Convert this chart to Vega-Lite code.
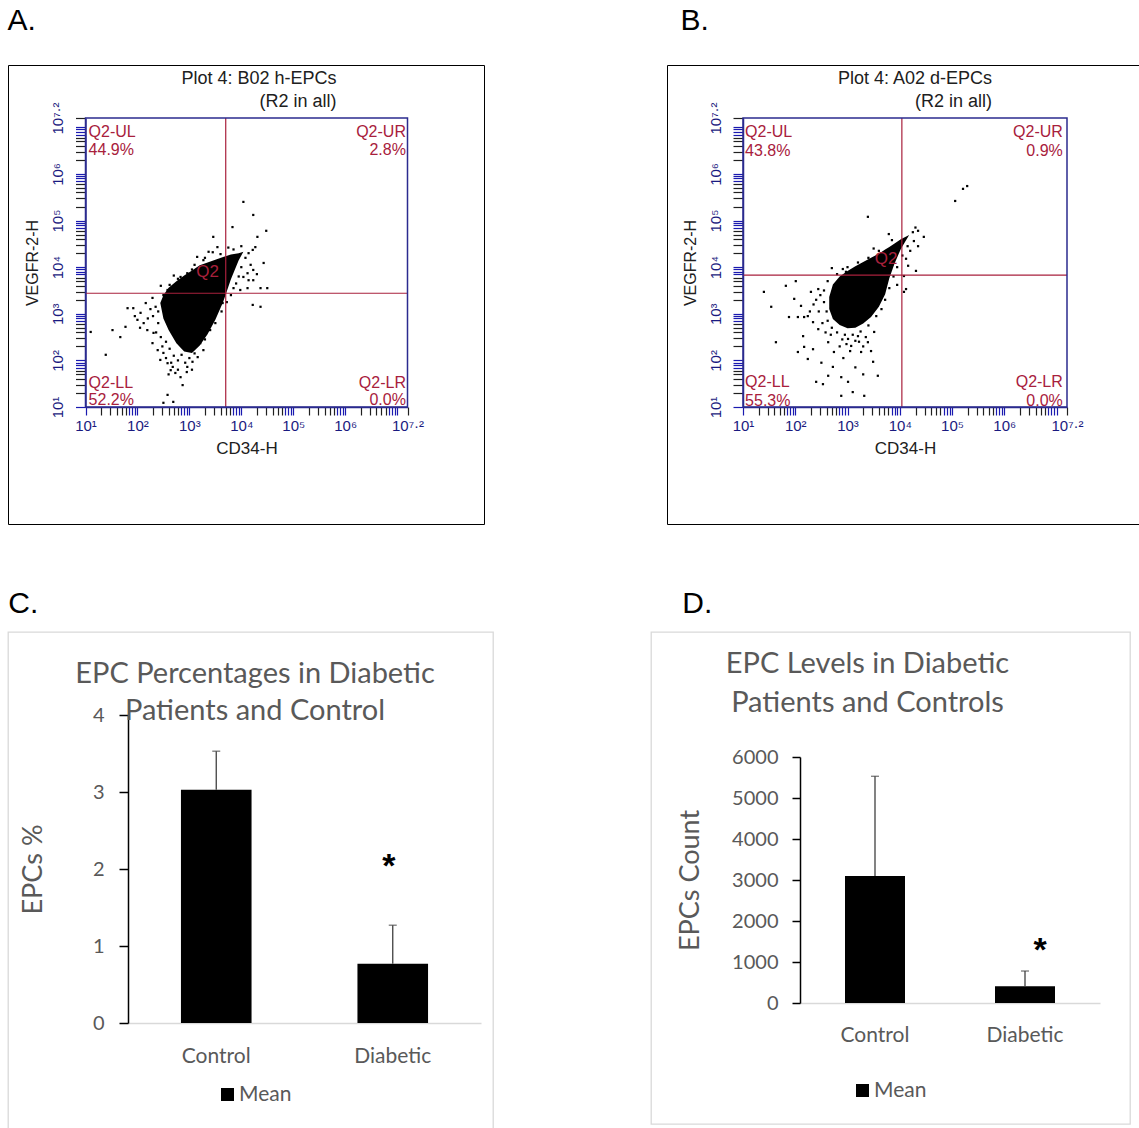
{
  "$schema": "https://vega.github.io/schema/vega-lite/v6.json",
  "padding": {"left": 7, "top": 5, "right": 0, "bottom": 0},
  "background": "white",
  "config": {
    "view": {"stroke": null},
    "axis": {"grid": false},
    "font": "Liberation Sans"
  },
  "resolve": {"scale": {"color": "independent"}, "legend": {"color": "independent"}},
  "spacing": 64,
  "vconcat": [
    {
      "spacing": 181,
      "resolve": {"scale": {"color": "independent"}, "legend": {"color": "independent"}},
      "hconcat": [
        {
          "title": {"text": "A.", "anchor": "start", "font": "Liberation Sans", "fontSize": 30, "fontWeight": "normal", "color": "black", "offset": 29},
          "vconcat": [
            {
              "width": 476,
              "height": 459,
              "view": {"stroke": "black", "strokeWidth": 1},
              "title": {"text": ["Plot 4: B02 h-EPCs", "(R2 in all)"], "anchor": "middle", "align": "right", "frame": "group", "offset": -45.8, "dx": 90.5, "font": "Liberation Sans", "fontSize": 18, "lineHeight": 23, "fontWeight": "normal", "color": "#202020"},
              "layer": [
                {
                  "data": {"values": [
                    {"CD34": 2.44, "VEGFR2_low": 3.23, "VEGFR2_high": 3.23},
                    {"CD34": 2.50, "VEGFR2_low": 2.90, "VEGFR2_high": 3.40},
                    {"CD34": 2.60, "VEGFR2_low": 2.65, "VEGFR2_high": 3.56},
                    {"CD34": 2.75, "VEGFR2_low": 2.37, "VEGFR2_high": 3.70},
                    {"CD34": 2.90, "VEGFR2_low": 2.19, "VEGFR2_high": 3.82},
                    {"CD34": 3.05, "VEGFR2_low": 2.16, "VEGFR2_high": 3.93},
                    {"CD34": 3.20, "VEGFR2_low": 2.32, "VEGFR2_high": 4.04},
                    {"CD34": 3.35, "VEGFR2_low": 2.56, "VEGFR2_high": 4.10},
                    {"CD34": 3.50, "VEGFR2_low": 2.87, "VEGFR2_high": 4.16},
                    {"CD34": 3.65, "VEGFR2_low": 3.25, "VEGFR2_high": 4.22},
                    {"CD34": 3.80, "VEGFR2_low": 3.74, "VEGFR2_high": 4.27},
                    {"CD34": 3.95, "VEGFR2_low": 4.15, "VEGFR2_high": 4.30},
                    {"CD34": 4.04, "VEGFR2_low": 4.33, "VEGFR2_high": 4.33}
                  ]},
                  "mark": {"type": "area", "color": "black", "interpolate": "linear"},
                  "encoding": {
                    "x": {"field": "CD34", "type": "quantitative",
                      "scale": {"domain": [1, 7.2], "range": [77.5, 399.5], "nice": false, "zero": false},
                      "axis": {"orient": "bottom", "offset": -117, "title": "CD34-H", "tickCount": 200,
                        "values": [1,1.30103,1.47712,1.60206,1.69897,1.77815,1.8451,1.90309,1.95424,2,2.30103,2.47712,2.60206,2.69897,2.77815,2.8451,2.90309,2.95424,3,3.30103,3.47712,3.60206,3.69897,3.77815,3.8451,3.90309,3.95424,4,4.30103,4.47712,4.60206,4.69897,4.77815,4.8451,4.90309,4.95424,5,5.30103,5.47712,5.60206,5.69897,5.77815,5.8451,5.90309,5.95424,6,6.30103,6.47712,6.60206,6.69897,6.77815,6.8451,6.90309,6.95424,7,7.2],
                        "labelExpr": "datum.value == 7.2 ? '10⁷·²' : (datum.value % 1 == 0 && datum.value < 7 ? '10' + ['⁰','¹','²','³','⁴','⁵','⁶','⁷'][datum.value] : '')",
                        "titleFont": "Liberation Sans", "titleFontSize": 17, "titleFontWeight": "normal", "titleColor": "#202020", "titlePadding": 7,
                        "domainColor": "#2b2b8f", "domainWidth": 1.5, "tickSize": 8, "tickWidth": 1.2,
                        "tickColor": {"condition": {"test": "datum.value % 1 == 0 || datum.value % 1 > 0.8", "value": "#1a1ab0"}, "value": "#202020"},
                        "labelFont": "Liberation Sans", "labelFontSize": 15, "labelColor": "#1a1a80", "labelPadding": 3,
                        "labelFlush": false, "labelOverlap": false, "labelBound": false}},
                    "y": {"field": "VEGFR2_low", "type": "quantitative",
                      "scale": {"domain": [1, 7.2], "range": [342, 53], "nice": false, "zero": false},
                      "axis": {"orient": "left", "offset": -77.5, "title": "VEGFR-2-H", "tickCount": 200,
                        "values": [1,1.30103,1.47712,1.60206,1.69897,1.77815,1.8451,1.90309,1.95424,2,2.30103,2.47712,2.60206,2.69897,2.77815,2.8451,2.90309,2.95424,3,3.30103,3.47712,3.60206,3.69897,3.77815,3.8451,3.90309,3.95424,4,4.30103,4.47712,4.60206,4.69897,4.77815,4.8451,4.90309,4.95424,5,5.30103,5.47712,5.60206,5.69897,5.77815,5.8451,5.90309,5.95424,6,6.30103,6.47712,6.60206,6.69897,6.77815,6.8451,6.90309,6.95424,7,7.2],
                        "labelExpr": "datum.value == 7.2 ? '10⁷·²' : (datum.value % 1 == 0 && datum.value < 7 ? '10' + ['⁰','¹','²','³','⁴','⁵','⁶','⁷'][datum.value] : '')",
                        "labelAngle": 270,
                        "titleFont": "Liberation Sans", "titleFontSize": 16, "titleFontWeight": "normal", "titleColor": "#202020", "titlePadding": 10,
                        "domainColor": "#2b2b8f", "domainWidth": 1.5, "tickSize": 10, "tickWidth": 1.2,
                        "tickColor": {"condition": {"test": "datum.value % 1 == 0 || datum.value % 1 > 0.8", "value": "#1a1ab0"}, "value": "#202020"},
                        "labelFont": "Liberation Sans", "labelFontSize": 15, "labelColor": "#1a1a80", "labelPadding": 10,
                        "labelFlush": false, "labelOverlap": false, "labelBound": false}},
                    "y2": {"field": "VEGFR2_high"}
                  }
                },
                {
                  "data": {"values": [
                    {"CD34":4.04,"VEGFR2":5.40},{"CD34":4.23,"VEGFR2":5.12},{"CD34":3.83,"VEGFR2":4.86},{"CD34":4.48,"VEGFR2":4.78},{"CD34":4.31,"VEGFR2":4.65},{"CD34":3.46,"VEGFR2":4.65},{"CD34":3.54,"VEGFR2":4.43},{"CD34":4.27,"VEGFR2":4.43},{"CD34":4.22,"VEGFR2":4.37},{"CD34":4.14,"VEGFR2":4.30},{"CD34":3.37,"VEGFR2":4.33},{"CD34":3.27,"VEGFR2":4.15},{"CD34":4.43,"VEGFR2":4.09},{"CD34":4.23,"VEGFR2":3.94},{"CD34":4.12,"VEGFR2":3.87},{"CD34":4.14,"VEGFR2":3.72},{"CD34":4.04,"VEGFR2":3.79},{"CD34":4.23,"VEGFR2":3.72},{"CD34":4.37,"VEGFR2":3.55},{"CD34":4.50,"VEGFR2":3.55},{"CD34":4.12,"VEGFR2":3.55},{"CD34":3.98,"VEGFR2":3.51},{"CD34":4.22,"VEGFR2":3.19},{"CD34":4.37,"VEGFR2":3.15},{"CD34":2.96,"VEGFR2":3.87},{"CD34":2.83,"VEGFR2":3.79},{"CD34":2.69,"VEGFR2":3.55},{"CD34":2.58,"VEGFR2":3.51},{"CD34":2.29,"VEGFR2":3.34},{"CD34":2.16,"VEGFR2":3.23},{"CD34":1.81,"VEGFR2":3.12},{"CD34":1.92,"VEGFR2":3.12},{"CD34":2.06,"VEGFR2":3.02},{"CD34":2.00,"VEGFR2":2.87},{"CD34":2.12,"VEGFR2":2.80},{"CD34":1.77,"VEGFR2":2.72},{"CD34":2.19,"VEGFR2":2.65},{"CD34":2.31,"VEGFR2":2.59},{"CD34":1.52,"VEGFR2":2.65},{"CD34":1.67,"VEGFR2":2.50},{"CD34":1.10,"VEGFR2":2.61},{"CD34":2.29,"VEGFR2":2.37},{"CD34":2.39,"VEGFR2":2.22},{"CD34":2.50,"VEGFR2":2.16},{"CD34":2.44,"VEGFR2":2.01},{"CD34":2.58,"VEGFR2":1.94},{"CD34":2.68,"VEGFR2":1.86},{"CD34":2.73,"VEGFR2":1.73},{"CD34":2.83,"VEGFR2":1.64},{"CD34":2.87,"VEGFR2":1.47},{"CD34":2.64,"VEGFR2":1.79},{"CD34":2.96,"VEGFR2":1.86},{"CD34":3.06,"VEGFR2":1.97},{"CD34":3.16,"VEGFR2":2.07},{"CD34":3.27,"VEGFR2":2.22},{"CD34":3.21,"VEGFR2":2.37},{"CD34":1.39,"VEGFR2":2.12},{"CD34":2.58,"VEGFR2":1.26},{"CD34":2.50,"VEGFR2":1.09},{"CD34":2.69,"VEGFR2":1.11},{"CD34":3.41,"VEGFR2":3.02},{"CD34":3.54,"VEGFR2":3.30},{"CD34":3.64,"VEGFR2":3.23},{"CD34":3.66,"VEGFR2":3.45},
                    {"CD34":2.35,"VEGFR2":3.15},{"CD34":2.30,"VEGFR2":2.95},{"CD34":2.40,"VEGFR2":2.80},{"CD34":2.36,"VEGFR2":2.60},{"CD34":2.45,"VEGFR2":2.50},{"CD34":2.55,"VEGFR2":2.40},{"CD34":2.62,"VEGFR2":2.25},{"CD34":2.70,"VEGFR2":2.10},{"CD34":2.78,"VEGFR2":2.00},{"CD34":2.92,"VEGFR2":1.95},{"CD34":3.00,"VEGFR2":2.05},{"CD34":2.85,"VEGFR2":2.12},{"CD34":2.40,"VEGFR2":3.05},{"CD34":2.25,"VEGFR2":3.10},{"CD34":2.50,"VEGFR2":3.40},{"CD34":2.62,"VEGFR2":3.62},{"CD34":2.78,"VEGFR2":3.75},{"CD34":3.05,"VEGFR2":3.95},{"CD34":3.10,"VEGFR2":4.05},{"CD34":3.30,"VEGFR2":4.20},{"CD34":3.60,"VEGFR2":4.28},{"CD34":3.85,"VEGFR2":4.38},{"CD34":4.00,"VEGFR2":4.45},{"CD34":4.08,"VEGFR2":4.20},{"CD34":4.00,"VEGFR2":4.00},{"CD34":3.95,"VEGFR2":3.80},{"CD34":3.90,"VEGFR2":3.65},{"CD34":3.80,"VEGFR2":3.40},{"CD34":3.72,"VEGFR2":3.25},{"CD34":3.62,"VEGFR2":3.05},{"CD34":3.50,"VEGFR2":2.80},{"CD34":3.40,"VEGFR2":2.65},{"CD34":3.30,"VEGFR2":2.45},{"CD34":3.20,"VEGFR2":2.55},{"CD34":3.35,"VEGFR2":2.70},{"CD34":3.12,"VEGFR2":2.30},{"CD34":2.55,"VEGFR2":2.05},{"CD34":2.65,"VEGFR2":1.95},{"CD34":2.95,"VEGFR2":1.75},{"CD34":3.05,"VEGFR2":1.80},
                    {"CD34":2.20,"VEGFR2":2.90},{"CD34":2.05,"VEGFR2":2.70},{"CD34":1.95,"VEGFR2":2.95},{"CD34":2.48,"VEGFR2":2.30},{"CD34":2.78,"VEGFR2":1.80},{"CD34":2.60,"VEGFR2":1.70},{"CD34":3.10,"VEGFR2":2.15},{"CD34":2.45,"VEGFR2":3.60},{"CD34":2.70,"VEGFR2":3.82},{"CD34":3.15,"VEGFR2":4.22},{"CD34":3.45,"VEGFR2":4.32},{"CD34":3.75,"VEGFR2":4.42},{"CD34":4.18,"VEGFR2":4.05},{"CD34":4.30,"VEGFR2":3.85},{"CD34":3.85,"VEGFR2":3.55}
                  ]},
                  "mark": {"type": "square", "size": 5, "color": "black", "opacity": 1},
                  "encoding": {"x": {"field": "CD34", "type": "quantitative"}, "y": {"field": "VEGFR2", "type": "quantitative"}}
                },
                {
                  "data": {"values": [{"CD34_gate": 3.70}]},
                  "mark": {"type": "rule", "color": "#a8203c", "strokeWidth": 1.2},
                  "encoding": {"x": {"field": "CD34_gate", "type": "quantitative"}, "y": {"datum": 1, "type": "quantitative"}, "y2": {"datum": 7.2}}
                },
                {
                  "data": {"values": [{"VEGFR2_gate": 3.44}]},
                  "mark": {"type": "rule", "color": "#a8203c", "strokeWidth": 1.2},
                  "encoding": {"y": {"field": "VEGFR2_gate", "type": "quantitative"}, "x": {"datum": 1, "type": "quantitative"}, "x2": {"datum": 7.2}}
                },
                {
                  "data": {"values": [{}]},
                  "mark": {"type": "rect", "filled": false, "color": "#2b2b8f", "strokeWidth": 1.5},
                  "encoding": {"x": {"datum": 1, "type": "quantitative"}, "x2": {"datum": 7.2}, "y": {"datum": 1, "type": "quantitative"}, "y2": {"datum": 7.2}}
                },
                {
                  "data": {"values": [
                    {"quadrant": "UL", "text": "Q2-UL", "CD34": 1.06, "VEGFR2": 6.79},
                    {"quadrant": "UL", "text": "44.9%", "CD34": 1.06, "VEGFR2": 6.41},
                    {"quadrant": "LL", "text": "Q2-LL", "CD34": 1.06, "VEGFR2": 1.41},
                    {"quadrant": "LL", "text": "52.2%", "CD34": 1.06, "VEGFR2": 1.04}
                  ]},
                  "mark": {"type": "text", "align": "left", "baseline": "alphabetic", "font": "Liberation Sans", "fontSize": 16, "color": "#a8203c"},
                  "encoding": {"x": {"field": "CD34", "type": "quantitative"}, "y": {"field": "VEGFR2", "type": "quantitative"}, "text": {"field": "text"}}
                },
                {
                  "data": {"values": [
                    {"quadrant": "UR", "text": "Q2-UR", "CD34": 7.17, "VEGFR2": 6.79},
                    {"quadrant": "UR", "text": "2.8%", "CD34": 7.17, "VEGFR2": 6.41},
                    {"quadrant": "LR", "text": "Q2-LR", "CD34": 7.17, "VEGFR2": 1.41},
                    {"quadrant": "LR", "text": "0.0%", "CD34": 7.17, "VEGFR2": 1.04}
                  ]},
                  "mark": {"type": "text", "align": "right", "baseline": "alphabetic", "font": "Liberation Sans", "fontSize": 16, "color": "#a8203c"},
                  "encoding": {"x": {"field": "CD34", "type": "quantitative"}, "y": {"field": "VEGFR2", "type": "quantitative"}, "text": {"field": "text"}}
                },
                {
                  "data": {"values": [{"text": "Q2", "CD34": 3.35, "VEGFR2": 3.79}]},
                  "mark": {"type": "text", "align": "center", "baseline": "alphabetic", "font": "Liberation Sans", "fontSize": 17, "color": "#a8203c"},
                  "encoding": {"x": {"field": "CD34", "type": "quantitative"}, "y": {"field": "VEGFR2", "type": "quantitative"}, "text": {"field": "text"}}
                }
              ]
            }
          ]
        },
        {
          "title": {"text": "B.", "anchor": "start", "font": "Liberation Sans", "fontSize": 30, "fontWeight": "normal", "color": "black", "offset": 29, "dx": 14},
          "vconcat": [
            {
              "width": 476,
              "height": 459,
              "view": {"stroke": "black", "strokeWidth": 1},
              "title": {"text": ["Plot 4: A02 d-EPCs", "(R2 in all)"], "anchor": "middle", "align": "right", "frame": "group", "offset": -45.8, "dx": 87, "font": "Liberation Sans", "fontSize": 18, "lineHeight": 23, "fontWeight": "normal", "color": "#202020"},
              "layer": [
                {
                  "data": {"values": [
                    {"CD34": 2.65, "VEGFR2_low": 3.10, "VEGFR2_high": 3.36},
                    {"CD34": 2.72, "VEGFR2_low": 2.89, "VEGFR2_high": 3.63},
                    {"CD34": 2.85, "VEGFR2_low": 2.76, "VEGFR2_high": 3.80},
                    {"CD34": 3.00, "VEGFR2_low": 2.69, "VEGFR2_high": 3.92},
                    {"CD34": 3.15, "VEGFR2_low": 2.70, "VEGFR2_high": 4.02},
                    {"CD34": 3.30, "VEGFR2_low": 2.79, "VEGFR2_high": 4.11},
                    {"CD34": 3.45, "VEGFR2_low": 2.93, "VEGFR2_high": 4.20},
                    {"CD34": 3.60, "VEGFR2_low": 3.15, "VEGFR2_high": 4.29},
                    {"CD34": 3.72, "VEGFR2_low": 3.42, "VEGFR2_high": 4.38},
                    {"CD34": 3.80, "VEGFR2_low": 3.76, "VEGFR2_high": 4.43},
                    {"CD34": 3.90, "VEGFR2_low": 4.08, "VEGFR2_high": 4.51},
                    {"CD34": 4.02, "VEGFR2_low": 4.39, "VEGFR2_high": 4.60},
                    {"CD34": 4.18, "VEGFR2_low": 4.69, "VEGFR2_high": 4.69}
                  ]},
                  "mark": {"type": "area", "color": "black", "interpolate": "linear"},
                  "encoding": {
                    "x": {"field": "CD34", "type": "quantitative",
                      "scale": {"domain": [1, 7.2], "range": [76, 400], "nice": false, "zero": false},
                      "axis": {"orient": "bottom", "offset": -117, "title": "CD34-H", "tickCount": 200,
                        "values": [1,1.30103,1.47712,1.60206,1.69897,1.77815,1.8451,1.90309,1.95424,2,2.30103,2.47712,2.60206,2.69897,2.77815,2.8451,2.90309,2.95424,3,3.30103,3.47712,3.60206,3.69897,3.77815,3.8451,3.90309,3.95424,4,4.30103,4.47712,4.60206,4.69897,4.77815,4.8451,4.90309,4.95424,5,5.30103,5.47712,5.60206,5.69897,5.77815,5.8451,5.90309,5.95424,6,6.30103,6.47712,6.60206,6.69897,6.77815,6.8451,6.90309,6.95424,7,7.2],
                        "labelExpr": "datum.value == 7.2 ? '10⁷·²' : (datum.value % 1 == 0 && datum.value < 7 ? '10' + ['⁰','¹','²','³','⁴','⁵','⁶','⁷'][datum.value] : '')",
                        "titleFont": "Liberation Sans", "titleFontSize": 17, "titleFontWeight": "normal", "titleColor": "#202020", "titlePadding": 7,
                        "domainColor": "#2b2b8f", "domainWidth": 1.5, "tickSize": 8, "tickWidth": 1.2,
                        "tickColor": {"condition": {"test": "datum.value % 1 == 0 || datum.value % 1 > 0.8", "value": "#1a1ab0"}, "value": "#202020"},
                        "labelFont": "Liberation Sans", "labelFontSize": 15, "labelColor": "#1a1a80", "labelPadding": 3,
                        "labelFlush": false, "labelOverlap": false, "labelBound": false}},
                    "y": {"field": "VEGFR2_low", "type": "quantitative",
                      "scale": {"domain": [1, 7.2], "range": [342, 53], "nice": false, "zero": false},
                      "axis": {"orient": "left", "offset": -76, "title": "VEGFR-2-H", "tickCount": 200,
                        "values": [1,1.30103,1.47712,1.60206,1.69897,1.77815,1.8451,1.90309,1.95424,2,2.30103,2.47712,2.60206,2.69897,2.77815,2.8451,2.90309,2.95424,3,3.30103,3.47712,3.60206,3.69897,3.77815,3.8451,3.90309,3.95424,4,4.30103,4.47712,4.60206,4.69897,4.77815,4.8451,4.90309,4.95424,5,5.30103,5.47712,5.60206,5.69897,5.77815,5.8451,5.90309,5.95424,6,6.30103,6.47712,6.60206,6.69897,6.77815,6.8451,6.90309,6.95424,7,7.2],
                        "labelExpr": "datum.value == 7.2 ? '10⁷·²' : (datum.value % 1 == 0 && datum.value < 7 ? '10' + ['⁰','¹','²','³','⁴','⁵','⁶','⁷'][datum.value] : '')",
                        "labelAngle": 270,
                        "titleFont": "Liberation Sans", "titleFontSize": 16, "titleFontWeight": "normal", "titleColor": "#202020", "titlePadding": 10,
                        "domainColor": "#2b2b8f", "domainWidth": 1.5, "tickSize": 10, "tickWidth": 1.2,
                        "tickColor": {"condition": {"test": "datum.value % 1 == 0 || datum.value % 1 > 0.8", "value": "#1a1ab0"}, "value": "#202020"},
                        "labelFont": "Liberation Sans", "labelFontSize": 15, "labelColor": "#1a1a80", "labelPadding": 10,
                        "labelFlush": false, "labelOverlap": false, "labelBound": false}},
                    "y2": {"field": "VEGFR2_high"}
                  }
                },
                {
                  "data": {"values": [
                    {"CD34":5.29,"VEGFR2":5.74},{"CD34":5.21,"VEGFR2":5.68},{"CD34":5.06,"VEGFR2":5.42},{"CD34":3.39,"VEGFR2":5.08},{"CD34":3.79,"VEGFR2":4.71},{"CD34":4.46,"VEGFR2":4.65},{"CD34":4.27,"VEGFR2":4.56},{"CD34":4.35,"VEGFR2":4.45},{"CD34":4.12,"VEGFR2":4.18},{"CD34":4.16,"VEGFR2":4.03},{"CD34":4.31,"VEGFR2":3.92},{"CD34":4.08,"VEGFR2":3.81},{"CD34":4.12,"VEGFR2":3.53},{"CD34":4.08,"VEGFR2":3.47},{"CD34":2.91,"VEGFR2":3.96},{"CD34":2.97,"VEGFR2":3.90},{"CD34":2.44,"VEGFR2":3.53},{"CD34":2.30,"VEGFR2":3.47},{"CD34":2.01,"VEGFR2":3.70},{"CD34":1.82,"VEGFR2":3.60},{"CD34":1.40,"VEGFR2":3.47},{"CD34":1.54,"VEGFR2":3.15},{"CD34":1.98,"VEGFR2":3.32},{"CD34":2.11,"VEGFR2":3.17},{"CD34":2.24,"VEGFR2":2.95},{"CD34":1.88,"VEGFR2":2.93},{"CD34":2.05,"VEGFR2":2.93},{"CD34":2.17,"VEGFR2":2.93},{"CD34":2.34,"VEGFR2":2.82},{"CD34":2.44,"VEGFR2":2.67},{"CD34":2.15,"VEGFR2":2.52},{"CD34":1.63,"VEGFR2":2.39},{"CD34":2.05,"VEGFR2":2.18},{"CD34":2.17,"VEGFR2":2.29},{"CD34":2.34,"VEGFR2":2.24},{"CD34":2.63,"VEGFR2":2.39},{"CD34":2.74,"VEGFR2":2.18},{"CD34":2.72,"VEGFR2":1.86},{"CD34":2.63,"VEGFR2":1.67},{"CD34":3.01,"VEGFR2":1.54},{"CD34":2.88,"VEGFR2":1.64},{"CD34":3.10,"VEGFR2":1.32},{"CD34":3.32,"VEGFR2":1.24},{"CD34":3.58,"VEGFR2":1.67},{"CD34":3.49,"VEGFR2":1.97},{"CD34":3.26,"VEGFR2":2.18},{"CD34":3.07,"VEGFR2":2.31},{"CD34":3.20,"VEGFR2":2.52},{"CD34":3.51,"VEGFR2":2.61},{"CD34":3.39,"VEGFR2":2.39},{"CD34":3.01,"VEGFR2":2.46},{"CD34":2.53,"VEGFR2":1.49},{"CD34":2.40,"VEGFR2":1.54},{"CD34":2.88,"VEGFR2":1.24},{"CD34":2.24,"VEGFR2":2.03},
                    {"CD34":2.55,"VEGFR2":3.25},{"CD34":2.60,"VEGFR2":3.05},{"CD34":2.62,"VEGFR2":2.85},{"CD34":2.70,"VEGFR2":2.70},{"CD34":2.80,"VEGFR2":2.60},{"CD34":2.95,"VEGFR2":2.55},{"CD34":3.10,"VEGFR2":2.55},{"CD34":3.25,"VEGFR2":2.62},{"CD34":3.40,"VEGFR2":2.75},{"CD34":3.55,"VEGFR2":2.95},{"CD34":3.65,"VEGFR2":3.10},{"CD34":3.72,"VEGFR2":3.30},{"CD34":3.80,"VEGFR2":3.55},{"CD34":3.88,"VEGFR2":3.80},{"CD34":3.95,"VEGFR2":4.00},{"CD34":4.05,"VEGFR2":4.25},{"CD34":4.15,"VEGFR2":4.45},{"CD34":4.25,"VEGFR2":4.75},{"CD34":4.30,"VEGFR2":4.85},{"CD34":4.35,"VEGFR2":4.78},{"CD34":3.60,"VEGFR2":4.35},{"CD34":3.40,"VEGFR2":4.20},{"CD34":3.20,"VEGFR2":4.10},{"CD34":3.00,"VEGFR2":4.00},{"CD34":2.80,"VEGFR2":3.85},{"CD34":2.62,"VEGFR2":3.70},{"CD34":2.55,"VEGFR2":3.50},{"CD34":2.48,"VEGFR2":3.40},{"CD34":2.40,"VEGFR2":3.30},{"CD34":2.45,"VEGFR2":3.05},{"CD34":2.52,"VEGFR2":2.80},{"CD34":2.68,"VEGFR2":2.55},{"CD34":2.90,"VEGFR2":2.45},{"CD34":3.15,"VEGFR2":2.42},{"CD34":3.35,"VEGFR2":2.50},{"CD34":2.98,"VEGFR2":2.35},{"CD34":3.05,"VEGFR2":2.20},{"CD34":3.22,"VEGFR2":2.40},
                    {"CD34":2.35,"VEGFR2":3.20},{"CD34":2.28,"VEGFR2":3.05},{"CD34":2.58,"VEGFR2":2.60},{"CD34":2.85,"VEGFR2":2.30},{"CD34":3.30,"VEGFR2":2.30},{"CD34":3.45,"VEGFR2":2.20},{"CD34":2.92,"VEGFR2":2.05},{"CD34":3.15,"VEGFR2":1.85},{"CD34":3.30,"VEGFR2":1.70},{"CD34":2.50,"VEGFR2":1.95},{"CD34":2.70,"VEGFR2":3.98},{"CD34":3.50,"VEGFR2":4.40},{"CD34":3.85,"VEGFR2":4.58},{"CD34":4.20,"VEGFR2":4.35},{"CD34":3.95,"VEGFR2":3.62}
                  ]},
                  "mark": {"type": "square", "size": 5, "color": "black", "opacity": 1},
                  "encoding": {"x": {"field": "CD34", "type": "quantitative"}, "y": {"field": "VEGFR2", "type": "quantitative"}}
                },
                {
                  "data": {"values": [{"CD34_gate": 4.04}]},
                  "mark": {"type": "rule", "color": "#a8203c", "strokeWidth": 1.2},
                  "encoding": {"x": {"field": "CD34_gate", "type": "quantitative"}, "y": {"datum": 1, "type": "quantitative"}, "y2": {"datum": 7.2}}
                },
                {
                  "data": {"values": [{"VEGFR2_gate": 3.83}]},
                  "mark": {"type": "rule", "color": "#a8203c", "strokeWidth": 1.2},
                  "encoding": {"y": {"field": "VEGFR2_gate", "type": "quantitative"}, "x": {"datum": 1, "type": "quantitative"}, "x2": {"datum": 7.2}}
                },
                {
                  "data": {"values": [{}]},
                  "mark": {"type": "rect", "filled": false, "color": "#2b2b8f", "strokeWidth": 1.5},
                  "encoding": {"x": {"datum": 1, "type": "quantitative"}, "x2": {"datum": 7.2}, "y": {"datum": 1, "type": "quantitative"}, "y2": {"datum": 7.2}}
                },
                {
                  "data": {"values": [
                    {"quadrant": "UL", "text": "Q2-UL", "CD34": 1.04, "VEGFR2": 6.79},
                    {"quadrant": "UL", "text": "43.8%", "CD34": 1.04, "VEGFR2": 6.39},
                    {"quadrant": "LL", "text": "Q2-LL", "CD34": 1.04, "VEGFR2": 1.43},
                    {"quadrant": "LL", "text": "55.3%", "CD34": 1.04, "VEGFR2": 1.02}
                  ]},
                  "mark": {"type": "text", "align": "left", "baseline": "alphabetic", "font": "Liberation Sans", "fontSize": 16, "color": "#a8203c"},
                  "encoding": {"x": {"field": "CD34", "type": "quantitative"}, "y": {"field": "VEGFR2", "type": "quantitative"}, "text": {"field": "text"}}
                },
                {
                  "data": {"values": [
                    {"quadrant": "UR", "text": "Q2-UR", "CD34": 7.12, "VEGFR2": 6.79},
                    {"quadrant": "UR", "text": "0.9%", "CD34": 7.12, "VEGFR2": 6.39},
                    {"quadrant": "LR", "text": "Q2-LR", "CD34": 7.12, "VEGFR2": 1.43},
                    {"quadrant": "LR", "text": "0.0%", "CD34": 7.12, "VEGFR2": 1.02}
                  ]},
                  "mark": {"type": "text", "align": "right", "baseline": "alphabetic", "font": "Liberation Sans", "fontSize": 16, "color": "#a8203c"},
                  "encoding": {"x": {"field": "CD34", "type": "quantitative"}, "y": {"field": "VEGFR2", "type": "quantitative"}, "text": {"field": "text"}}
                },
                {
                  "data": {"values": [{"text": "Q2", "CD34": 3.74, "VEGFR2": 4.07}]},
                  "mark": {"type": "text", "align": "center", "baseline": "alphabetic", "font": "Liberation Sans", "fontSize": 17, "color": "#a8203c"},
                  "encoding": {"x": {"field": "CD34", "type": "quantitative"}, "y": {"field": "VEGFR2", "type": "quantitative"}, "text": {"field": "text"}}
                }
              ]
            }
          ]
        }
      ]
    },
    {
      "spacing": 156,
      "resolve": {"scale": {"color": "independent"}, "legend": {"color": "independent"}},
      "hconcat": [
        {
          "title": {"text": "C.", "anchor": "start", "font": "Liberation Sans", "fontSize": 30, "fontWeight": "normal", "color": "black", "offset": 12, "dx": 1},
          "resolve": {"scale": {"color": "independent"}, "legend": {"color": "independent"}},
          "vconcat": [
            {
              "width": 485,
              "height": 500,
              "view": {"stroke": "#d9d9d9", "strokeWidth": 1.3},
              "title": {"text": ["EPC Percentages in Diabetic", "Patients and Control"], "anchor": "middle", "frame": "group", "offset": -94.1, "dx": 4.5, "font": "Lato", "fontSize": 29, "fontWeight": "normal", "color": "#595959", "lineHeight": 37},
              "data": {"values": [
                {"group": "Control", "series": "Mean", "mean": 3.03, "upper": 3.53},
                {"group": "Diabetic", "series": "Mean", "mean": 0.77, "upper": 1.27}
              ]},
              "layer": [
                {
                  "mark": {"type": "bar", "color": "black"},
                  "encoding": {
                    "x": {"field": "group", "type": "nominal", "sort": null,
                      "scale": {"range": [120, 473], "paddingInner": 0.6, "paddingOuter": 0.3},
                      "axis": {"orient": "bottom", "offset": -109, "title": null, "labelAngle": 0, "domainColor": "#d9d9d9", "domainWidth": 1.3, "ticks": false, "tickSize": 0, "labelFont": "Lato", "labelFontSize": 21, "labelColor": "#595959", "labelPadding": 22}},
                    "y": {"field": "mean", "type": "quantitative",
                      "scale": {"domain": [0, 4], "range": [391, 83], "nice": false},
                      "axis": {"orient": "left", "offset": -120, "values": [0, 1, 2, 3, 4], "format": "d", "title": "EPCs %", "titleFont": "Lato", "titleFontSize": 27, "titleFontWeight": "normal", "titleColor": "#595959", "titlePadding": 45, "domainColor": "black", "domainWidth": 1.5, "tickColor": "black", "tickSize": 9, "tickWidth": 1.5, "labelFont": "Lato", "labelFontSize": 20, "labelColor": "#595959", "labelPadding": 15}},
                    "color": {"field": "series", "type": "nominal", "scale": {"range": ["black"]},
                      "legend": {"orient": "none", "legendX": 209, "legendY": 452, "title": null, "direction": "horizontal", "symbolType": "square", "symbolSize": 170, "symbolStrokeWidth": 0, "labelFont": "Lato", "labelFontSize": 21, "labelColor": "#595959", "labelOffset": 1, "padding": 0}}
                  }
                },
                {
                  "mark": {"type": "rule", "color": "#404040", "strokeWidth": 1.3},
                  "encoding": {"x": {"field": "group", "type": "nominal"}, "y": {"field": "mean", "type": "quantitative"}, "y2": {"field": "upper"}}
                },
                {
                  "mark": {"type": "tick", "color": "#404040", "thickness": 1.3, "size": 8},
                  "encoding": {"x": {"field": "group", "type": "nominal"}, "y": {"field": "upper", "type": "quantitative"}}
                },
                {
                  "data": {"values": [{"group": "Diabetic", "position": 1.9, "label": "*"}]},
                  "mark": {"type": "text", "font": "Liberation Sans", "fontWeight": "bold", "fontSize": 34, "color": "black", "baseline": "alphabetic", "dx": -4},
                  "encoding": {"x": {"field": "group", "type": "nominal"}, "y": {"field": "position", "type": "quantitative"}, "text": {"field": "label"}}
                }
              ]
            }
          ]
        },
        {
          "title": {"text": "D.", "anchor": "start", "font": "Liberation Sans", "fontSize": 30, "fontWeight": "normal", "color": "black", "offset": 12, "dx": 32},
          "resolve": {"scale": {"color": "independent"}, "legend": {"color": "independent"}},
          "vconcat": [
            {
              "width": 479,
              "height": 492,
              "view": {"stroke": "#d9d9d9", "strokeWidth": 1.3},
              "title": {"text": ["EPC Levels in Diabetic", "Patients and Controls"], "anchor": "middle", "frame": "group", "offset": -86.1, "dx": -23, "font": "Lato", "fontSize": 29, "fontWeight": "normal", "color": "#595959", "lineHeight": 39},
              "data": {"values": [
                {"group": "Control", "series": "Mean", "mean": 3100, "upper": 5530},
                {"group": "Diabetic", "series": "Mean", "mean": 410, "upper": 780}
              ]},
              "layer": [
                {
                  "mark": {"type": "bar", "color": "black"},
                  "encoding": {
                    "x": {"field": "group", "type": "nominal", "sort": null,
                      "scale": {"range": [149, 449], "paddingInner": 0.6, "paddingOuter": 0.3},
                      "axis": {"orient": "bottom", "offset": -121, "title": null, "labelAngle": 0, "domainColor": "#d9d9d9", "domainWidth": 1.3, "ticks": false, "tickSize": 0, "labelFont": "Lato", "labelFontSize": 21, "labelColor": "#595959", "labelPadding": 21}},
                    "y": {"field": "mean", "type": "quantitative",
                      "scale": {"domain": [0, 6000], "range": [371, 125], "nice": false},
                      "axis": {"orient": "left", "offset": -149, "values": [0, 1000, 2000, 3000, 4000, 5000, 6000], "format": "d", "title": "EPCs Count", "titleFont": "Lato", "titleFontSize": 27, "titleFontWeight": "normal", "titleColor": "#595959", "titlePadding": 27, "domainColor": "black", "domainWidth": 1.5, "tickColor": "black", "tickSize": 8, "tickWidth": 1.5, "labelFont": "Lato", "labelFontSize": 20, "labelColor": "#595959", "labelPadding": 14}},
                    "color": {"field": "series", "type": "nominal", "scale": {"range": ["black"]},
                      "legend": {"orient": "none", "legendX": 201, "legendY": 448, "title": null, "direction": "horizontal", "symbolType": "square", "symbolSize": 170, "symbolStrokeWidth": 0, "labelFont": "Lato", "labelFontSize": 21, "labelColor": "#595959", "labelOffset": 1, "padding": 0}}
                  }
                },
                {
                  "mark": {"type": "rule", "color": "#404040", "strokeWidth": 1.3},
                  "encoding": {"x": {"field": "group", "type": "nominal"}, "y": {"field": "mean", "type": "quantitative"}, "y2": {"field": "upper"}}
                },
                {
                  "mark": {"type": "tick", "color": "#404040", "thickness": 1.3, "size": 8},
                  "encoding": {"x": {"field": "group", "type": "nominal"}, "y": {"field": "upper", "type": "quantitative"}}
                },
                {
                  "data": {"values": [{"group": "Diabetic", "position": 1020, "label": "*"}]},
                  "mark": {"type": "text", "font": "Liberation Sans", "fontWeight": "bold", "fontSize": 34, "color": "black", "baseline": "alphabetic", "dx": 15},
                  "encoding": {"x": {"field": "group", "type": "nominal"}, "y": {"field": "position", "type": "quantitative"}, "text": {"field": "label"}}
                }
              ]
            }
          ]
        }
      ]
    }
  ]
}
